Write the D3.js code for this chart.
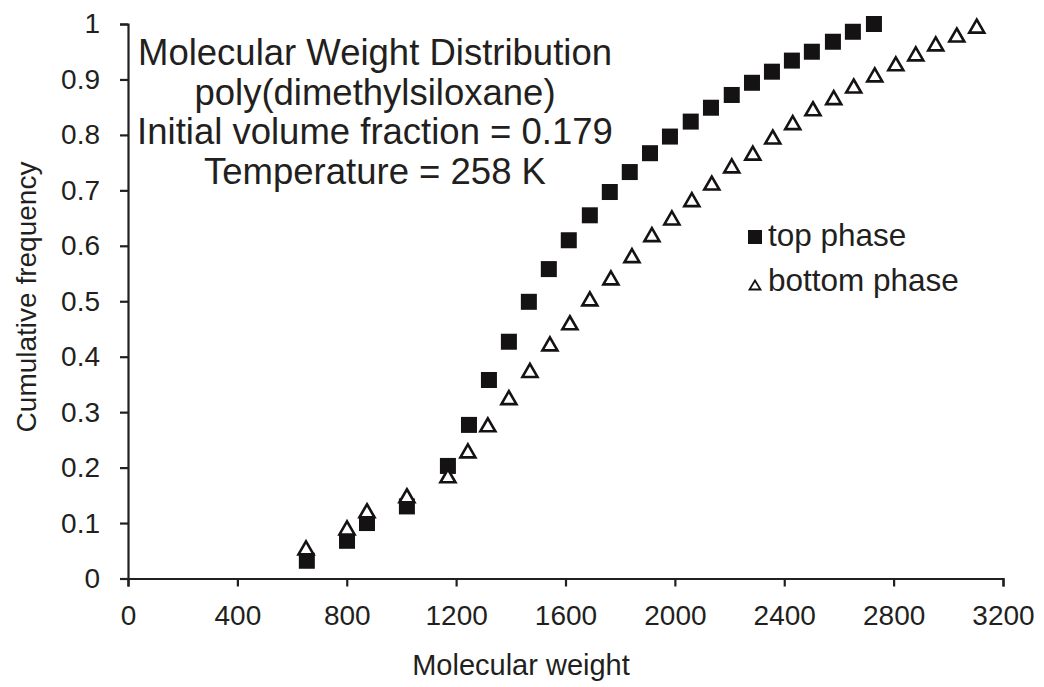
<!DOCTYPE html>
<html>
<head>
<meta charset="utf-8">
<script src="https://cdn.jsdelivr.net/npm/d3@7"></script>
<style>
  body { margin: 0; background: #fff; }
  text { font-family: "Liberation Sans", Arial, sans-serif; fill: #231f20; }
</style>
</head>
<body>
<div id="chart"></div>
<script>
// Molecular weight distribution, PDMS, two phases

const topMW = [654, 801, 874, 1020, 1170, 1247, 1320, 1393, 1466, 1539, 1612, 1689, 1762, 1835,
  1909, 1982, 2058, 2132, 2208, 2282, 2355, 2428, 2501, 2578, 2651, 2728];
const topFreq = [0.032, 0.068, 0.100, 0.130, 0.203, 0.277, 0.358, 0.427, 0.499, 0.558, 0.610, 0.655,
  0.697, 0.733, 0.767, 0.797, 0.824, 0.849, 0.872, 0.894, 0.914, 0.934, 0.950, 0.968, 0.986, 1.000];

const bottomMW = [651, 801, 874, 1020, 1170, 1243, 1316, 1393, 1470, 1543, 1616, 1689, 1766, 1843,
  1916, 1989, 2062, 2135, 2208, 2285, 2358, 2431, 2505, 2581, 2654, 2731, 2808, 2881, 2954, 3031, 3104];
const bottomFreq = [0.057, 0.093, 0.124, 0.151, 0.187, 0.232, 0.279, 0.328, 0.377, 0.425, 0.463,
  0.506, 0.544, 0.584, 0.622, 0.652, 0.685, 0.715, 0.746, 0.769, 0.798, 0.824, 0.849, 0.869, 0.890,
  0.910, 0.930, 0.948, 0.966, 0.982, 0.998];

const xTicks = [0, 400, 800, 1200, 1600, 2000, 2400, 2800, 3200];
const yTicks = [0, 0.1, 0.2, 0.3, 0.4, 0.5, 0.6, 0.7, 0.8, 0.9, 1];

const titleLines = ["Molecular Weight Distribution", "poly(dimethylsiloxane)",
  "Initial volume fraction = 0.179", "Temperature = 258 K"];
const seriesNames = ["top phase", "bottom phase"];

const width = 1044, height = 687;
const ink = "#231f20";

const svg = d3.select("#chart")
  .append("svg")
    .attr("width", width)
    .attr("height", height);

// scales
const x = d3.scaleLinear().domain([0, 3200]).range([128, 1003]);
const y = d3.scaleLinear().domain([0, 1]).range([578.5, 24]);

// X axis
const xAxis = svg.append("g")
  .attr("transform", `translate(0,${y(0)})`)
  .call(d3.axisBottom(x).tickValues(xTicks).tickFormat(d3.format("d"))
    .tickSizeInner(8).tickSizeOuter(8).tickPadding(19));
xAxis.selectAll("text").style("font-size", "28px");

// Y axis
const yAxis = svg.append("g")
  .attr("transform", `translate(${x(0)},0)`)
  .call(d3.axisLeft(y).tickValues(yTicks).tickFormat(d => d === 0 || d === 1 ? d : d3.format(".1f")(d))
    .tickSizeInner(8).tickSizeOuter(8).tickPadding(20));
yAxis.selectAll("text").style("font-size", "28px");

svg.selectAll(".domain, .tick line")
  .attr("stroke", ink)
  .attr("stroke-width", 2.2);
svg.selectAll(".tick text").attr("fill", ink);

// axis titles
svg.append("text")
  .attr("x", 521)
  .attr("y", 675)
  .attr("text-anchor", "middle")
  .style("font-size", "29px")
  .text("Molecular weight");

svg.append("text")
  .attr("transform", "rotate(-90)")
  .attr("x", -297)
  .attr("y", 36)
  .attr("text-anchor", "middle")
  .style("font-size", "28px")
  .text("Cumulative frequency");

// title block
svg.append("g").selectAll("text")
  .data(titleLines)
  .enter()
  .append("text")
    .attr("x", 375)
    .attr("y", (d, i) => 65 + i * 39.5)
    .attr("text-anchor", "middle")
    .style("font-size", "36.5px")
    .text(d => d);

// marker helpers
const triPath = (w, h) => `M0,${-h / 2}L${w / 2},${h / 2}L${-w / 2},${h / 2}Z`;

const topData = topMW.map((m, i) => ({ mw: m, f: topFreq[i] }));
const bottomData = bottomMW.map((m, i) => ({ mw: m, f: bottomFreq[i] }));

// top phase squares
svg.append("g").selectAll("rect")
  .data(topData)
  .enter()
  .append("rect")
    .attr("x", d => x(d.mw) - 8)
    .attr("y", d => y(d.f) - 8)
    .attr("width", 16)
    .attr("height", 16)
    .attr("fill", "#151213");

// bottom phase triangles
svg.append("g").selectAll("path")
  .data(bottomData)
  .enter()
  .append("path")
    .attr("transform", d => `translate(${x(d.mw)},${y(d.f) + 1})`)
    .attr("d", triPath(15, 13))
    .attr("fill", "#fff")
    .attr("stroke", "#151213")
    .attr("stroke-width", 2.6)
    .attr("stroke-linejoin", "miter");

// legend
const legend = svg.append("g");
legend.append("rect")
  .attr("x", 748)
  .attr("y", 230)
  .attr("width", 14)
  .attr("height", 14)
  .attr("fill", "#151213");
legend.append("path")
  .attr("transform", "translate(755,285)")
  .attr("d", triPath(11, 9))
  .attr("fill", "#fff")
  .attr("stroke", "#151213")
  .attr("stroke-width", 1.8);
legend.selectAll("text")
  .data(seriesNames)
  .enter()
  .append("text")
    .attr("x", 768)
    .attr("y", (d, i) => 246 + i * 45)
    .style("font-size", "31.5px")
    .text(d => d);
</script>
</body>
</html>
